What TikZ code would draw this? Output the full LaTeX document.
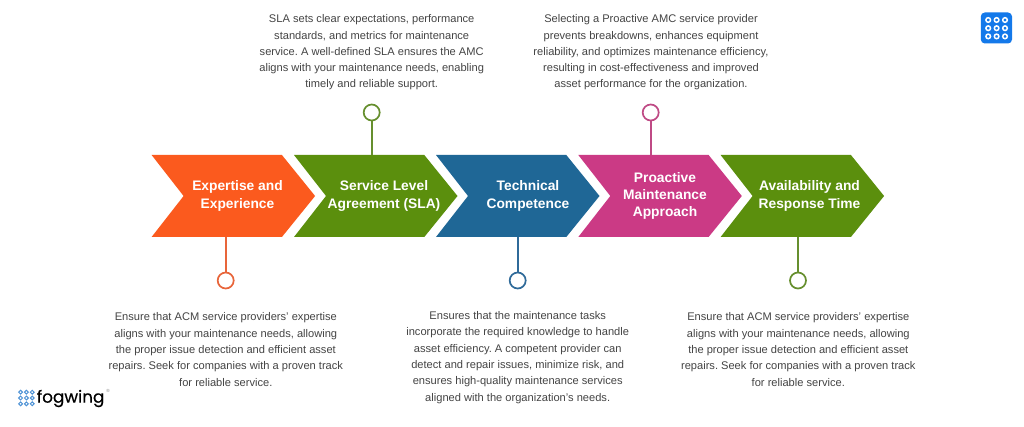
\documentclass[tikz,border=0pt]{standalone}
\usepackage{fontspec}
\setmainfont{Liberation Sans}
\newfontfamily\logofont[FakeBold=0.4]{Poppins}
\definecolor{cOrange}{HTML}{FB5A1E}
\definecolor{cGreen}{HTML}{5B8F0D}
\definecolor{cBlue}{HTML}{1F6796}
\definecolor{cPink}{HTML}{CB3A85}
\definecolor{cLineOrange}{HTML}{E8653A}
\definecolor{cLineGreen}{HTML}{668F2E}
\definecolor{cLineBlue}{HTML}{2F6A99}
\definecolor{cLinePink}{HTML}{BF4A85}
\definecolor{cBody}{HTML}{444444}
\definecolor{cIcon}{HTML}{1479EA}
\definecolor{cLogoDot}{HTML}{4E93D6}
\tikzset{
  x=1pt,y=-1pt,
  head/.style={font=\fontsize{13.8}{17.4}\selectfont\bfseries,text=white,align=center,inner sep=0pt},
  body/.style={font=\frenchspacing\fontsize{11.1}{16.3}\selectfont,text=cBody,align=center,inner sep=0pt},
  pin/.style={circle,draw=#1,line width=1.7pt,fill=white,minimum size=16pt,inner sep=0pt},
  stem/.style={draw=#1,line width=1.7pt},
}
\newcommand{\chev}[2]{% left x, colour
  \fill[#2] (#1,155) -- ++(130.3,0) -- ++(33.2,41) -- ++(-33.2,41) -- ++(-130.3,0) -- ++(32,-41) -- cycle;}
\begin{document}
\begin{tikzpicture}
\useasboundingbox (0,0) rectangle (1024,427);
\fill[white] (0,0) rectangle (1024,427);
\chev{151.6}{cOrange}
\chev{294}{cGreen}
\chev{436}{cBlue}
\chev{578.3}{cPink}
\chev{720.6}{cGreen}
\node[head] (h1) at (237.5,196) {Expertise and\\Experience};
\node[head] (h2) at (384,196) {Service Level\\Agreement (SLA)};
\node[head] (h3) at (528,196) {Technical\\Competence};
\node[head] (h4) at (665,196) {Proactive\\Maintenance\\Approach};
\node[head] (h5) at (809.5,196) {Availability and\\Response Time};
\coordinate (e1) at (225.7,237);
\coordinate (e2) at (371.7,155);
\coordinate (e3) at (517.7,237);
\coordinate (e4) at (650.7,155);
\coordinate (e5) at (798,237);
\node[pin=cLineOrange] (p1) at (225.7,280.5) {};
\node[pin=cLineGreen] (p2) at (371.7,112.5) {};
\node[pin=cLineBlue] (p3) at (517.7,280.5) {};
\node[pin=cLinePink] (p4) at (650.7,112.5) {};
\node[pin=cLineGreen] (p5) at (798,280.5) {};
\draw[stem=cLineOrange] (e1) -- (p1);
\draw[stem=cLineGreen] (e2) -- (p2);
\draw[stem=cLineBlue] (e3) -- (p3);
\draw[stem=cLinePink] (e4) -- (p4);
\draw[stem=cLineGreen] (e5) -- (p5);
\node[body] (t2) at (371.7,52.5) {SLA sets clear expectations, performance\\standards, and metrics for maintenance\\service. A well-defined SLA ensures the AMC\\aligns with your maintenance needs, enabling\\timely and reliable support.};
\node[body] (t4) at (651,52.5) {Selecting a Proactive AMC service provider\\prevents breakdowns, enhances equipment\\reliability, and optimizes maintenance efficiency,\\resulting in cost-effectiveness and improved\\asset performance for the organization.};
\node[body] (t1) at (225.8,349.5) {Ensure that ACM service providers’ expertise\\aligns with your maintenance needs, allowing\\the proper issue detection and efficient asset\\repairs. Seek for companies with a proven track\\for reliable service.};
\node[body] (t3) at (517.7,357.5) {Ensures that the maintenance tasks\\incorporate the required knowledge to handle\\asset efficiency. A competent provider can\\detect and repair issues, minimize risk, and\\ensures high-quality maintenance services\\aligned with the organization’s needs.};
\node[body] (t5) at (798.3,349.5) {Ensure that ACM service providers’ expertise\\aligns with your maintenance needs, allowing\\the proper issue detection and efficient asset\\repairs. Seek for companies with a proven track\\for reliable service.};
% app icon
\fill[cIcon,rounded corners=4pt] (980.8,12.5) rectangle (1012,43.5);
\foreach \i in {0,1,2}\foreach \j in {0,1,2}{
  \draw[white,line width=1.5pt] (988.2+\i*8.4,20+\j*8.2) circle (2.3);
}
% logo
\foreach \i in {0,1,2}\foreach \j in {0,1,2}{
  \draw[cLogoDot,line width=1pt] (20.6+\i*5.8,392.2+\j*5.8) circle (1.9);
}
\node[font=\logofont\fontsize{16.8}{20}\selectfont,text=black,anchor=west,inner sep=0pt] (logo) at (36.5,398.5) {fogwing};
\node[font=\fontsize{4.5}{5}\selectfont,text=gray,inner sep=0pt] (reg) at (108,390.5) {®};
\end{tikzpicture}
\end{document}
